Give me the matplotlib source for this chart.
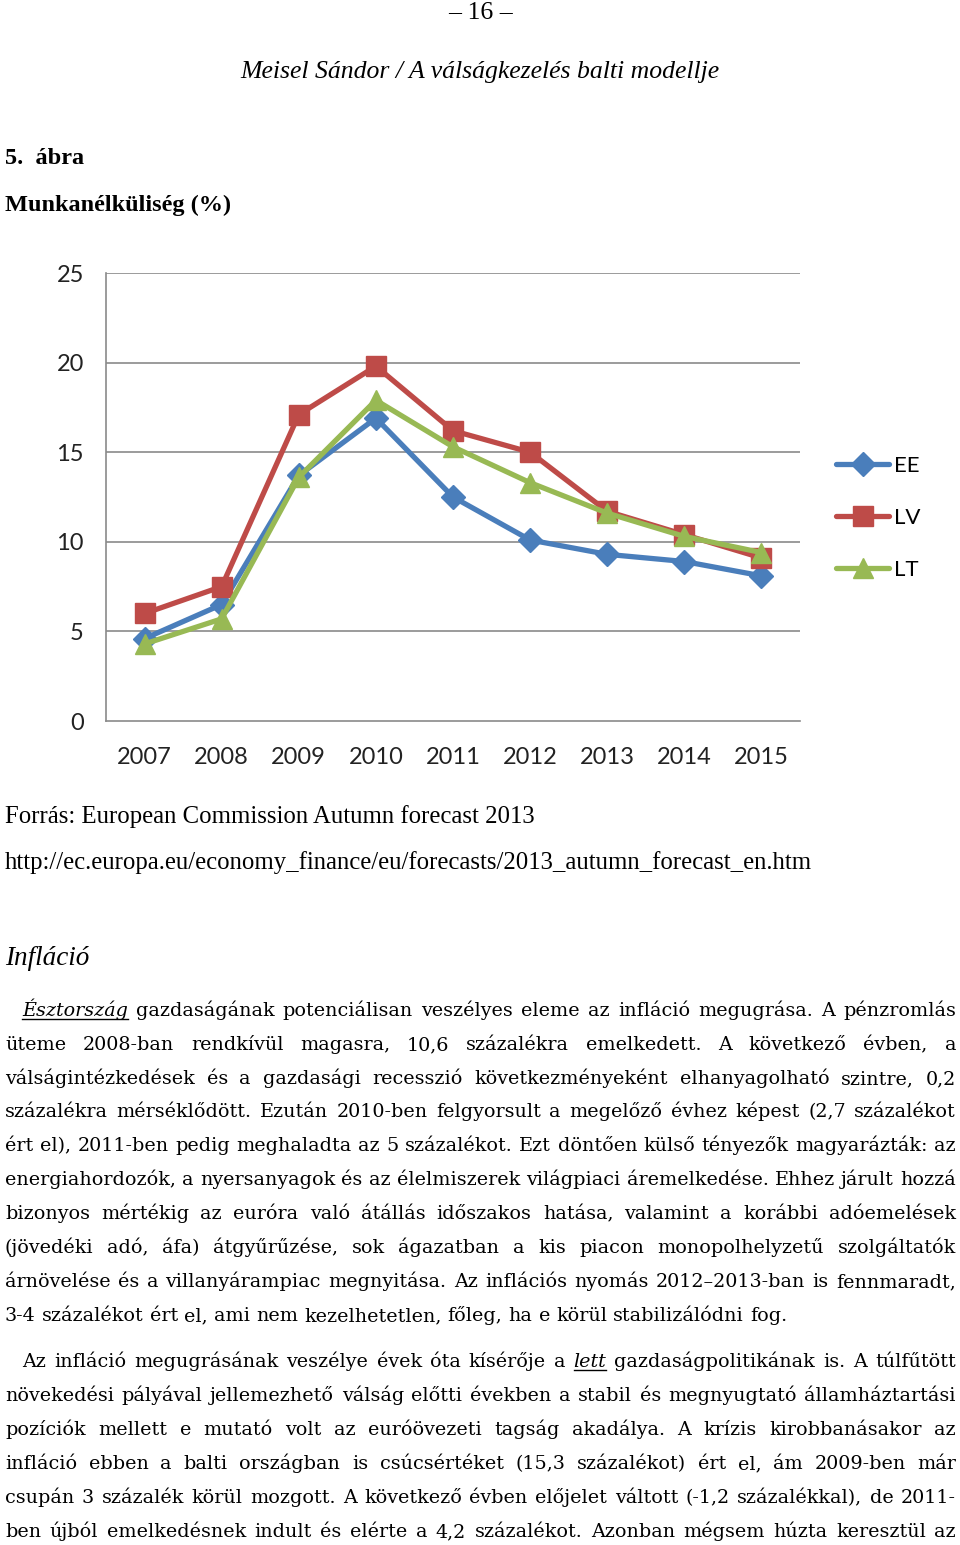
import matplotlib
matplotlib.use('Agg')
import matplotlib.pyplot as plt
from matplotlib.lines import Line2D

# chart data
years = ['2007', '2008', '2009', '2010', '2011', '2012', '2013', '2014', '2015']
ee = [4.6, 6.5, 13.7, 16.9, 12.5, 10.1, 9.3, 8.9, 8.1]
lv = [6.0, 7.5, 17.1, 19.8, 16.2, 15.0, 11.7, 10.4, 9.1]
lt = [4.3, 5.7, 13.6, 17.9, 15.3, 13.3, 11.6, 10.3, 9.4]
series = ['EE', 'LV', 'LT']
yticks = [0, 5, 10, 15, 20, 25]

# page text
page_no = '\u2013 16 \u2013'
header = 'Meisel Sándor / A válságkezelés balti modellje'
fig_no = '5.  ábra'
fig_title = 'Munkanélküliség (%)'
source1 = 'Forrás: European Commission Autumn forecast 2013'
source2 = 'http://ec.europa.eu/economy_finance/eu/forecasts/2013_autumn_forecast_en.htm'
section = 'Infláció'

# *word* marks italic + underlined
para1 = [
    '*Észtország* gazdaságának potenciálisan veszélyes eleme az infláció megugrása. A pénzromlás',
    'üteme 2008-ban rendkívül magasra, 10,6 százalékra emelkedett. A következő évben, a',
    'válságintézkedések és a gazdasági recesszió következményeként elhanyagolható szintre, 0,2',
    'százalékra mérséklődött. Ezután 2010-ben felgyorsult a megelőző évhez képest (2,7 százalékot',
    'ért el), 2011-ben pedig meghaladta az 5 százalékot. Ezt döntően külső tényezők magyarázták: az',
    'energiahordozók, a nyersanyagok és az élelmiszerek világpiaci áremelkedése. Ehhez járult hozzá',
    'bizonyos mértékig az euróra való átállás időszakos hatása, valamint a korábbi adóemelések',
    '(jövedéki adó, áfa) átgyűrűzése, sok ágazatban a kis piacon monopolhelyzetű szolgáltatók',
    'árnövelése és a villanyárampiac megnyitása. Az inflációs nyomás 2012\u20132013-ban is fennmaradt,',
    '3-4 százalékot ért el, ami nem kezelhetetlen, főleg, ha e körül stabilizálódni fog.',
]
para2 = [
    'Az infláció megugrásának veszélye évek óta kísérője a *lett* gazdaságpolitikának is. A túlfűtött',
    'növekedési pályával jellemezhető válság előtti években a stabil és megnyugtató államháztartási',
    'pozíciók mellett e mutató volt az euróövezeti tagság akadálya.  A krízis kirobbanásakor az',
    'infláció ebben a balti országban is csúcsértéket (15,3 százalékot) ért el, ám 2009-ben már',
    'csupán 3 százalék körül mozgott. A következő évben előjelet váltott (-1,2 százalékkal), de 2011-',
    'ben újból emelkedésnek indult és elérte a 4,2 százalékot. Azonban mégsem húzta keresztül az',
]

W, H = 960, 1545
fig = plt.figure(figsize=(W / 100, H / 100), dpi=100)
fig.patch.set_facecolor('white')

serif = 'Liberation Serif'
body_font = 'DejaVu Serif'
chart_font = 'Lato'


def fx(px):
    return px / W


def fy(py):
    return 1 - py / H


# header part
fig.text(fx(480), fy(13), page_no, family=serif, fontsize=18.5, ha='center', va='center')
fig.text(fx(480), fy(72), header, family=serif, style='italic', fontsize=18.5, ha='center', va='center')
fig.text(fx(5), fy(158), fig_no, family=serif, weight='bold', fontsize=17.5, ha='left', va='center')
fig.text(fx(5), fy(205), fig_title, family=serif, weight='bold', fontsize=17.5, ha='left', va='center')

# chart
ax = fig.add_axes([fx(106), fy(721), fx(800 - 106), (721 - 273) / H])
x = list(range(len(years)))
colors = ['#4a7ebb', '#be4b48', '#98b954']
markers = ['D', 's', '^']
msizes = [12, 14, 15]
for vals, name, c, m, ms in zip([ee, lv, lt], series, colors, markers, msizes):
    ax.plot(x, vals, color=c, lw=3.8, marker=m, markersize=ms, label=name,
            solid_joinstyle='round', solid_capstyle='round')
ax.set_xlim(-0.5, len(years) - 0.5)
ax.set_ylim(0, 25)
ax.set_yticks(yticks)
ax.set_yticklabels([str(v) for v in yticks])
ax.set_xticks(x)
ax.set_xticklabels(years)
for v in yticks[1:]:
    ax.axhline(v, color='#8a8a8a', lw=1.2, zorder=0)
for s in ['top', 'right']:
    ax.spines[s].set_visible(False)
for s in ['left', 'bottom']:
    ax.spines[s].set_color('#8a8a8a')
    ax.spines[s].set_linewidth(1.2)
ax.tick_params(axis='both', length=0, labelsize=17, labelcolor='#222222')
ax.tick_params(axis='y', pad=16)
ax.tick_params(axis='x', pad=19)
for lab in ax.get_xticklabels() + ax.get_yticklabels():
    lab.set_family(chart_font)

leg = ax.legend(loc='center left', bbox_to_anchor=(fx(836), fy(518)), bbox_transform=fig.transFigure,
                frameon=False, handlelength=2.4, handletextpad=0.2, labelspacing=1.45,
                borderpad=0, borderaxespad=0, prop={'family': chart_font, 'size': 16})

# source lines
fig.text(fx(5), fy(817), source1, family=serif, fontsize=17.8, ha='left', va='center')
fig.text(fx(5), fy(863), source2, family=serif, fontsize=17.8, ha='left', va='center')
fig.text(fx(5), fy(959), section, family=serif, style='italic', fontsize=19.5, ha='left', va='center')

# justified body text
renderer = fig.canvas.get_renderer()


def word_width(w, size, italic=False):
    t = fig.text(0, 0, w, family=body_font, fontsize=size, style='italic' if italic else 'normal')
    bb = t.get_window_extent(renderer)
    t.remove()
    return bb.width


def natural_width(line, size):
    return word_width(line.replace('*', ''), size)


# pick the body size so the tightest justified line just fits
ref_size = 14.0
tight = [(natural_width(l, ref_size), 956 - (22 if i == 0 else 5))
         for p in (para1[:-1], para2) for i, l in enumerate(p)]
body_size = ref_size * min(avail / nat for nat, avail in tight)
space_w = word_width('a a', body_size) - word_width('aa', body_size)


def draw_line(line, x0, x1, ypx, justify=True):
    words = [w for w in line.split(' ') if w != '']
    parts = []
    for w in words:
        it = w.startswith('*') and w.endswith('*')
        parts.append((w.strip('*'), it))
    widths = [word_width(w, body_size, it) for w, it in parts]
    if justify and len(parts) > 1:
        gap = (x1 - x0 - sum(widths)) / (len(parts) - 1)
    else:
        gap = space_w
    xp = x0
    for (w, it), wd in zip(parts, widths):
        fig.text(fx(xp), fy(ypx), w, family=body_font, fontsize=body_size,
                 style='italic' if it else 'normal', ha='left', va='baseline')
        if it:
            fig.add_artist(Line2D([fx(xp), fx(xp + wd)], [fy(ypx + 3), fy(ypx + 3)],
                                  color='black', lw=1.0, transform=fig.transFigure))
        xp += wd + gap


p1_y = [1009, 1043, 1077, 1110, 1144, 1178, 1212, 1246, 1280, 1314]
for i, (line, yc) in enumerate(zip(para1, p1_y)):
    draw_line(line, 22 if i == 0 else 5, 956, yc + 7, justify=(i < len(para1) - 1))

p2_y = [1360, 1394, 1428, 1462, 1496, 1530]
for i, (line, yc) in enumerate(zip(para2, p2_y)):
    draw_line(line, 22 if i == 0 else 5, 956, yc + 7, justify=True)

fig.savefig('out.png', dpi=100)
